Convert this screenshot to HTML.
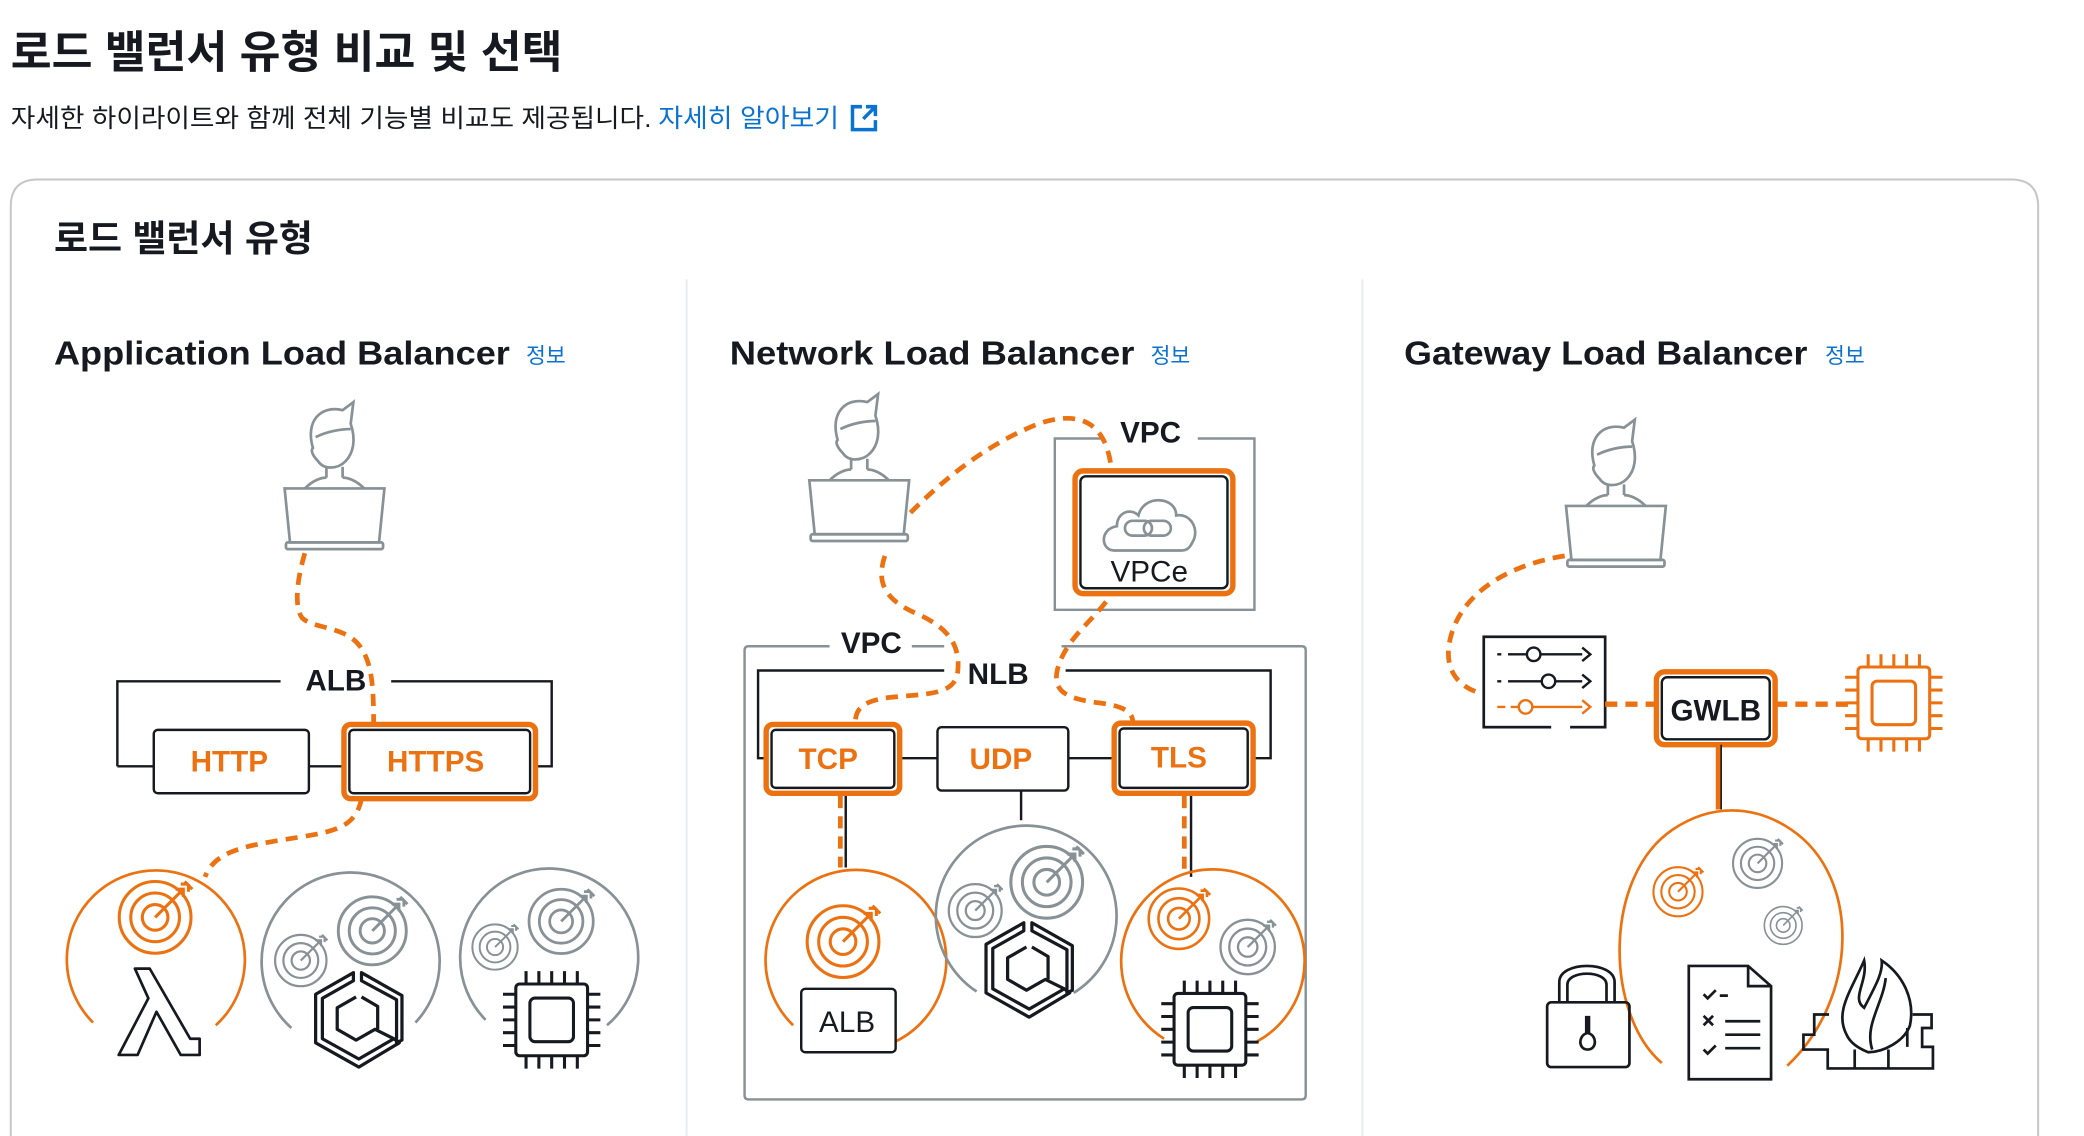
<!DOCTYPE html>
<html><head><meta charset="utf-8"><style>
html,body{margin:0;padding:0;background:#fff;}
svg{display:block;}
text{font-family:"Liberation Sans","Noto Sans CJK KR",sans-serif;}
</style></head><body>
<svg width="2084" height="1136" viewBox="0 0 1545 842" xmlns="http://www.w3.org/2000/svg">
<defs>
  <g id="person" fill="none" stroke="#879196" stroke-width="2">
    <path d="M-16,-30 C-22,-50 -10,-62 6,-58 L14,-64 L12,-48 C16,-36 14,-26 8,-20 C2,-14 -8,-14 -12,-20 C-16,-24 -18,-28 -16,-30 Z"/>
    <path d="M-14,-38 C-6,-42 4,-44 12,-44"/>
    <path d="M-6,-16 L-6,-8 M6,-16 L6,-8"/>
    <path d="M-22,0 C-16,-6 -10,-8 -6,-8 M22,0 C16,-6 10,-8 6,-8"/>
    <path d="M-37,0 L37,0 L33,40 L-33,40 Z"/>
    <rect x="-36" y="40" width="72" height="5" rx="1.5"/>
  </g>
  <g id="target" fill="none" stroke-width="2.4">
    <circle r="28"/><circle r="19"/><circle r="10"/>
    <path d="M0,0 L22,-22 M16,-22 L22,-22 L22,-16 M20,-26 L26,-26 M26,-20 L26,-26 M23,-28 L29,-22"/>
  </g>
  <g id="chip" fill="none" stroke-width="2.4">
    <rect x="-28" y="-28" width="56" height="56" rx="3"/>
    <rect x="-17" y="-17" width="34" height="34" rx="4"/>
    <path d="M-20,-28v-10M-10,-28v-10M0,-28v-10M10,-28v-10M20,-28v-10 M-20,28v10M-10,28v10M0,28v10M10,28v10M20,28v10 M-28,-20h-10M-28,-10h-10M-28,0h-10M-28,10h-10M-28,20h-10 M28,-20h10M28,-10h10M28,0h10M28,10h10M28,20h10"/>
  </g>
  <g id="hex" fill="none" stroke="#16191f" stroke-width="2.4" stroke-linejoin="round">
    <path d="M-4,-36 L-32,-20 L-32,16 L0,34 L30,16 L26,13 L0,28 L-27,13 L-27,-17 L-4,-30 Z"/>
    <path d="M2,-36 L32,-19 L32,14 L28,16 L28,-16 L2,-30 Z"/>
    <path d="M-2,-18 L-16,-10 L-16,6 L-2,14 L12,6 L26,13"/>
    <path d="M2,-18 L14,-11 L14,6"/>
  </g>
</defs>

<text x="8" y="50" font-size="33" font-weight="bold" fill="#16191f" textLength="409" lengthAdjust="spacingAndGlyphs">로드 밸런서 유형 비교 및 선택</text>
<text x="8" y="94" font-size="19" fill="#16191f" textLength="475" lengthAdjust="spacingAndGlyphs">자세한 하이라이트와 함께 전체 기능별 비교도 제공됩니다.</text>
<text x="488" y="94" font-size="19" fill="#0972d3" textLength="134" lengthAdjust="spacingAndGlyphs">자세히 알아보기</text>
<g fill="none" stroke="#0972d3" stroke-width="2.6">
  <path d="M639,79 L632,79 L632,96 L649,96 L649,89"/>
  <path d="M642,79 L649,79 L649,86 M649,79 L640,88"/>
</g>

<path d="M8,860 L8,153 Q8,133 28,133 L1491,133 Q1511,133 1511,153 L1511,860" fill="none" stroke="#c6c6cd" stroke-width="1.5"/>
<text x="40" y="186" font-size="27" font-weight="bold" fill="#16191f" textLength="192" lengthAdjust="spacingAndGlyphs">로드 밸런서 유형</text>
<line x1="509" y1="207" x2="509" y2="842" stroke="#e9ebed" stroke-width="1.5"/>
<line x1="1010" y1="207" x2="1010" y2="842" stroke="#e9ebed" stroke-width="1.5"/>

<text x="40" y="270" font-size="25" font-weight="bold" fill="#16191f" textLength="338" lengthAdjust="spacingAndGlyphs">Application Load Balancer</text>
<text x="390" y="269" font-size="16" fill="#0972d3">정보</text>
<text x="541" y="270" font-size="25" font-weight="bold" fill="#16191f" textLength="300" lengthAdjust="spacingAndGlyphs">Network Load Balancer</text>
<text x="853" y="269" font-size="16" fill="#0972d3">정보</text>
<text x="1041" y="270" font-size="25" font-weight="bold" fill="#16191f" textLength="299" lengthAdjust="spacingAndGlyphs">Gateway Load Balancer</text>
<text x="1353" y="269" font-size="16" fill="#0972d3">정보</text>

<!-- ALB -->
<use href="#person" transform="translate(248,362)"/>
<path d="M226,410 C220,430 218,450 224,458 C232,466 255,464 266,478 C276,490 277,510 277,537" fill="none" stroke="#ec7211" stroke-width="3.5" stroke-dasharray="9,6"/>
<path d="M87,568 L87,505 L208,505 M290,505 L409,505 L409,568 L397,568" fill="none" stroke="#16191f" stroke-width="1.8"/>
<text x="249" y="512" font-size="22" font-weight="bold" fill="#16191f" text-anchor="middle">ALB</text>
<path d="M87,568 L114,568 M229,568 L255,568" stroke="#16191f" stroke-width="1.8"/>
<rect x="114" y="541" width="115" height="47" rx="3" fill="#fff" stroke="#16191f" stroke-width="1.8"/>
<text x="170" y="572" font-size="22" font-weight="bold" fill="#ec7211" text-anchor="middle">HTTP</text>
<rect x="255" y="537" width="142" height="55" rx="5" fill="#fff" stroke="#ec7211" stroke-width="4"/>
<rect x="259" y="541" width="134" height="47" rx="3" fill="none" stroke="#16191f" stroke-width="1.8"/>
<text x="323" y="572" font-size="22" font-weight="bold" fill="#ec7211" text-anchor="middle">HTTPS</text>
<path d="M268,592 C264,612 250,616 225,620 C190,626 160,628 152,650" fill="none" stroke="#ec7211" stroke-width="3.5" stroke-dasharray="9,6"/>

<path d="M69,758 A66,66 0 1,1 160,760" fill="none" stroke="#ec7211" stroke-width="2"/>
<use href="#target" stroke="#ec7211" transform="translate(115,680) scale(0.95)"/>
<path d="M100,718 L111,718 L141,770 L148,770 L148,782 L134,782 L116,750 L102,782 L88,782 L110,740 L100,718 Z" fill="none" stroke="#16191f" stroke-width="2" stroke-linejoin="round"/>
<path d="M216,762 A66,66 0 1,1 308,758" fill="none" stroke="#879196" stroke-width="2"/>
<use href="#target" stroke="#879196" transform="translate(276,690) scale(0.9)"/>
<use href="#target" stroke="#879196" transform="translate(223,712) scale(0.68)"/>
<use href="#hex" transform="translate(266,757)"/>
<path d="M360,756 A66,66 0 1,1 450,760" fill="none" stroke="#879196" stroke-width="2"/>
<use href="#target" stroke="#879196" transform="translate(416,683) scale(0.85)"/>
<use href="#target" stroke="#879196" transform="translate(367,702) scale(0.6)"/>
<use href="#chip" stroke="#16191f" transform="translate(409,756) scale(0.95)"/>

<!-- NLB -->
<use href="#person" transform="translate(637,356)"/>
<path d="M818,325 L782,325 L782,452 L930,452 L930,325 L888,325" fill="none" stroke="#879196" stroke-width="1.8"/>
<text x="853" y="328" font-size="22" font-weight="bold" fill="#16191f" text-anchor="middle">VPC</text>
<rect x="797" y="349" width="117" height="91" rx="6" fill="#fff" stroke="#ec7211" stroke-width="4"/>
<rect x="801" y="353" width="109" height="83" rx="4" fill="none" stroke="#16191f" stroke-width="1.8"/>
<path d="M826,408 C816,408 815,392 828,390 C828,380 838,376 844,382 C848,366 872,368 872,382 C882,380 890,392 884,402 C882,406 880,408 876,408 Z" fill="none" stroke="#879196" stroke-width="2"/>
<rect x="834" y="386" width="20" height="11" rx="5.5" fill="none" stroke="#879196" stroke-width="2"/>
<rect x="848" y="386" width="20" height="11" rx="5.5" fill="none" stroke="#879196" stroke-width="2"/>
<text x="852" y="431" font-size="22" fill="#16191f" text-anchor="middle">VPCe</text>

<path d="M615,479 L555,479 Q552,479 552,482 L552,812 Q552,815 555,815 L965,815 Q968,815 968,812 L968,482 Q968,479 965,479 L787,479 M676,479 L700,479" fill="none" stroke="#879196" stroke-width="1.8"/>
<text x="646" y="484" font-size="22" font-weight="bold" fill="#16191f" text-anchor="middle">VPC</text>
<path d="M568,562 L562,562 L562,497 L700,497 M790,497 L942,497 L942,562 L929,562" fill="none" stroke="#16191f" stroke-width="1.8"/>
<text x="740" y="507" font-size="22" font-weight="bold" fill="#16191f" text-anchor="middle">NLB</text>
<path d="M667,562 L695,562 M792,562 L826,562 M757,586 L757,608" stroke="#16191f" stroke-width="1.8"/>
<rect x="568" y="537" width="99" height="51" rx="5" fill="#fff" stroke="#ec7211" stroke-width="4"/>
<rect x="572" y="541" width="91" height="43" rx="3" fill="none" stroke="#16191f" stroke-width="1.8"/>
<text x="614" y="570" font-size="22" font-weight="bold" fill="#ec7211" text-anchor="middle">TCP</text>
<rect x="695" y="539" width="97" height="47" rx="3" fill="#fff" stroke="#16191f" stroke-width="1.8"/>
<text x="742" y="570" font-size="22" font-weight="bold" fill="#ec7211" text-anchor="middle">UDP</text>
<rect x="826" y="536" width="103" height="52" rx="5" fill="#fff" stroke="#ec7211" stroke-width="4"/>
<rect x="830" y="540" width="95" height="44" rx="3" fill="none" stroke="#16191f" stroke-width="1.8"/>
<text x="874" y="569" font-size="22" font-weight="bold" fill="#ec7211" text-anchor="middle">TLS</text>
<path d="M627,590 L627,643 M883,590 L883,650" stroke="#16191f" stroke-width="1.8"/>
<path d="M623,590 L623,643 M878,590 L878,650" stroke="#ec7211" stroke-width="3.5" stroke-dasharray="9,6"/>

<path d="M675,380 C700,355 730,330 770,314 C800,304 820,312 824,348" fill="none" stroke="#ec7211" stroke-width="3.5" stroke-dasharray="9,6"/>
<path d="M656,412 C650,430 654,444 680,455 C705,466 712,480 710,498 C708,512 696,514 670,516 C640,518 634,524 634,537" fill="none" stroke="#ec7211" stroke-width="3.5" stroke-dasharray="9,6"/>
<path d="M820,446 C808,462 790,474 784,496 C780,512 790,518 815,521 C838,524 840,530 840,537" fill="none" stroke="#ec7211" stroke-width="3.5" stroke-dasharray="9,6"/>

<path d="M588,760 A67,67 0 1,1 664,772" fill="none" stroke="#ec7211" stroke-width="2"/>
<use href="#target" stroke="#ec7211" transform="translate(625,698) scale(0.95)"/>
<rect x="594" y="733" width="70" height="47" rx="3" fill="#fff" stroke="#16191f" stroke-width="1.8"/>
<text x="628" y="765" font-size="22" fill="#16191f" text-anchor="middle">ALB</text>
<path d="M724,735 A67,67 0 1,1 796,736" fill="none" stroke="#879196" stroke-width="2"/>
<use href="#target" stroke="#879196" transform="translate(776,654) scale(0.95)"/>
<use href="#target" stroke="#879196" transform="translate(723,675) scale(0.7)"/>
<use href="#hex" transform="translate(763,720)"/>
<path d="M863,770 A68,68 0 1,1 932,772" fill="none" stroke="#ec7211" stroke-width="2"/>
<use href="#target" stroke="#ec7211" transform="translate(874,681) scale(0.8)"/>
<use href="#target" stroke="#879196" transform="translate(925,702) scale(0.72)"/>
<use href="#chip" stroke="#16191f" transform="translate(897,763) scale(0.95)"/>

<!-- GWLB -->
<use href="#person" transform="translate(1198,375)"/>
<path d="M1160,412 C1110,420 1078,446 1074,480 C1072,500 1084,510 1098,514" fill="none" stroke="#ec7211" stroke-width="3.5" stroke-dasharray="9,6"/>
<rect x="1100" y="472" width="90" height="67" fill="#fff" stroke="#16191f" stroke-width="2"/>
<rect x="1150" y="536" width="14" height="6" fill="#fff"/>
<g fill="none" stroke="#16191f" stroke-width="1.8">
  <path d="M1110,485h3 M1118,485h55 M1173,480l6,5l-6,5"/>
  <circle cx="1137" cy="485" r="5" fill="#fff"/>
  <path d="M1110,505h3 M1118,505h55 M1173,500l6,5l-6,5"/>
  <circle cx="1148" cy="505" r="5" fill="#fff"/>
</g>
<g fill="none" stroke="#ec7211" stroke-width="1.8">
  <path d="M1110,524h6 M1120,524h53 M1173,519l6,5l-6,5"/>
  <circle cx="1131" cy="524" r="5" fill="#fff"/>
</g>
<path d="M1190,522 L1228,522 M1316,522 L1372,522" stroke="#ec7211" stroke-width="4" stroke-dasharray="9,6"/>
<rect x="1228" y="498" width="88" height="54" rx="6" fill="#fff" stroke="#ec7211" stroke-width="4"/>
<rect x="1232" y="502" width="80" height="46" rx="4" fill="none" stroke="#16191f" stroke-width="1.8"/>
<text x="1272" y="534" font-size="22" font-weight="bold" fill="#16191f" text-anchor="middle">GWLB</text>
<use href="#chip" stroke="#ec7211" transform="translate(1404,521) scale(0.95)"/>
<path d="M1274,552 L1274,600" stroke="#ec7211" stroke-width="4"/>
<path d="M1276,552 L1276,600" stroke="#16191f" stroke-width="1.2"/>
<path d="M1232,788 C1190,752 1188,650 1240,615 C1268,596 1300,596 1328,615 C1380,650 1378,740 1325,790" fill="none" stroke="#ec7211" stroke-width="2"/>
<use href="#target" stroke="#ec7211" transform="translate(1244,661) scale(0.65)"/>
<use href="#target" stroke="#879196" transform="translate(1303,640) scale(0.65)"/>
<use href="#target" stroke="#879196" transform="translate(1322,686) scale(0.5)"/>
<g fill="none" stroke="#16191f" stroke-width="2">
  <path d="M1156,743 L1156,728 C1156,712 1197,712 1197,728 L1197,743 M1162,743 L1162,730 C1162,719 1191,719 1191,730 L1191,743"/>
  <rect x="1147" y="743" width="61" height="48" rx="3"/>
  <path d="M1176,754 L1176,766 C1170,768 1170,778 1177,778 C1184,778 1184,768 1178,766 L1178,754 Z"/>
</g>
<g fill="none" stroke="#16191f" stroke-width="2">
  <path d="M1252,716 L1296,716 L1313,731 L1313,800 L1252,800 Z M1296,716 L1296,731 L1313,731"/>
  <path d="M1263,737l3,3l6,-6 M1275,738h6 M1263,778l3,3l6,-6 M1279,777h26 M1263,753l7,7m0,-7l-7,7 M1279,757h26 M1279,767h26"/>
</g>
<g fill="none" stroke="#16191f" stroke-width="2">
  <path d="M1356,752 L1345,752 L1345,767 L1337,767 L1337,778 L1355,778 L1355,792 L1433,792 L1433,776 L1425,776 L1425,762 L1432,762 L1432,752 L1418,752"/>
  <path d="M1369,767 C1360,750 1372,735 1382,712 C1385,728 1372,740 1382,747 C1392,728 1396,720 1395,712 C1410,722 1420,740 1416,760 C1412,772 1396,780 1385,780 C1380,778 1372,774 1369,767 Z"/>
  <path d="M1388,778 C1382,760 1396,744 1398,725 M1375,778 L1375,792 M1400,778 L1400,792 M1414,762 L1414,776"/>
</g>
</svg>
</body></html>
